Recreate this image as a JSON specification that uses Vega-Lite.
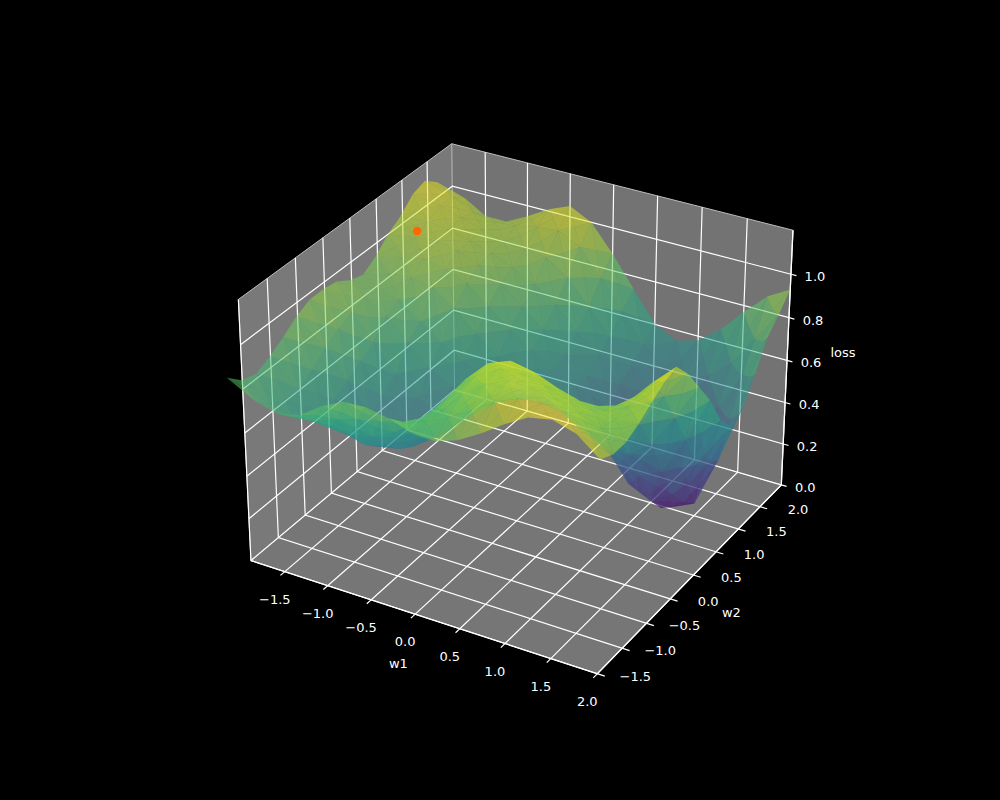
{"$schema":"https://vega.github.io/schema/vega-lite/v6.json","width":1000,"height":800,"padding":0,"autosize":{"type":"fit","contains":"padding"},"background":"black","view":{"stroke":null},
"config":{"text":{"font":"DejaVu Sans","fontSize":13,"color":"white"}},
"datasets":{"surface":[
{"w1":-2.08,"w2":2.5,"loss":1.0},{"w1":-1.75,"w2":2.5,"loss":0.96},{"w1":-1.5,"w2":2.5,"loss":0.9},{"w1":-1.25,"w2":2.5,"loss":0.9},{"w1":-1,"w2":2.5,"loss":0.95},{"w1":-0.75,"w2":2.5,"loss":1.01},{"w1":-0.5,"w2":2.5,"loss":1.05},{"w1":-0.25,"w2":2.5,"loss":1.0},{"w1":0,"w2":2.5,"loss":0.88},{"w1":0.25,"w2":2.5,"loss":0.74},{"w1":0.5,"w2":2.5,"loss":0.6},{"w1":0.75,"w2":2.5,"loss":0.55},{"w1":1,"w2":2.5,"loss":0.58},{"w1":1.25,"w2":2.5,"loss":0.66},{"w1":1.5,"w2":2.5,"loss":0.77},{"w1":1.75,"w2":2.5,"loss":0.87},{"w1":2,"w2":2.5,"loss":0.93},
{"w1":-2.08,"w2":2.25,"loss":1.05},{"w1":-1.75,"w2":2.25,"loss":1.01},{"w1":-1.5,"w2":2.25,"loss":0.96},{"w1":-1.25,"w2":2.25,"loss":0.94},{"w1":-1,"w2":2.25,"loss":0.95},{"w1":-0.75,"w2":2.25,"loss":0.97},{"w1":-0.5,"w2":2.25,"loss":0.98},{"w1":-0.25,"w2":2.25,"loss":0.93},{"w1":0,"w2":2.25,"loss":0.81},{"w1":0.25,"w2":2.25,"loss":0.68},{"w1":0.5,"w2":2.25,"loss":0.55},{"w1":0.75,"w2":2.25,"loss":0.47},{"w1":1,"w2":2.25,"loss":0.44},{"w1":1.25,"w2":2.25,"loss":0.49},{"w1":1.5,"w2":2.25,"loss":0.58},{"w1":1.75,"w2":2.25,"loss":0.72},{"w1":2,"w2":2.25,"loss":0.86},
{"w1":-2.08,"w2":2,"loss":1.03},{"w1":-1.75,"w2":2,"loss":1.01},{"w1":-1.5,"w2":2,"loss":0.98},{"w1":-1.25,"w2":2,"loss":0.95},{"w1":-1,"w2":2,"loss":0.92},{"w1":-0.75,"w2":2,"loss":0.91},{"w1":-0.5,"w2":2,"loss":0.9},{"w1":-0.25,"w2":2,"loss":0.83},{"w1":0,"w2":2,"loss":0.72},{"w1":0.25,"w2":2,"loss":0.61},{"w1":0.5,"w2":2,"loss":0.5},{"w1":0.75,"w2":2,"loss":0.41},{"w1":1,"w2":2,"loss":0.33},{"w1":1.25,"w2":2,"loss":0.33},{"w1":1.5,"w2":2,"loss":0.42},{"w1":1.75,"w2":2,"loss":0.6},{"w1":2,"w2":2,"loss":0.8},
{"w1":-2.08,"w2":1.75,"loss":0.97},{"w1":-1.75,"w2":1.75,"loss":0.98},{"w1":-1.5,"w2":1.75,"loss":0.97},{"w1":-1.25,"w2":1.75,"loss":0.94},{"w1":-1,"w2":1.75,"loss":0.91},{"w1":-0.75,"w2":1.75,"loss":0.87},{"w1":-0.5,"w2":1.75,"loss":0.82},{"w1":-0.25,"w2":1.75,"loss":0.75},{"w1":0,"w2":1.75,"loss":0.65},{"w1":0.25,"w2":1.75,"loss":0.57},{"w1":0.5,"w2":1.75,"loss":0.46},{"w1":0.75,"w2":1.75,"loss":0.31},{"w1":1,"w2":1.75,"loss":0.18},{"w1":1.25,"w2":1.75,"loss":0.14},{"w1":1.5,"w2":1.75,"loss":0.22},{"w1":1.75,"w2":1.75,"loss":0.44},{"w1":2,"w2":1.75,"loss":0.68},
{"w1":-2.08,"w2":1.5,"loss":0.93},{"w1":-1.75,"w2":1.5,"loss":0.95},{"w1":-1.5,"w2":1.5,"loss":0.96},{"w1":-1.25,"w2":1.5,"loss":0.94},{"w1":-1,"w2":1.5,"loss":0.9},{"w1":-0.75,"w2":1.5,"loss":0.84},{"w1":-0.5,"w2":1.5,"loss":0.76},{"w1":-0.25,"w2":1.5,"loss":0.68},{"w1":0,"w2":1.5,"loss":0.59},{"w1":0.25,"w2":1.5,"loss":0.52},{"w1":0.5,"w2":1.5,"loss":0.4},{"w1":0.75,"w2":1.5,"loss":0.21},{"w1":1,"w2":1.5,"loss":0.05},{"w1":1.25,"w2":1.5,"loss":0.01},{"w1":1.5,"w2":1.5,"loss":0.06},{"w1":1.75,"w2":1.5,"loss":0.3},{"w1":2,"w2":1.5,"loss":0.58},
{"w1":-2.08,"w2":1.25,"loss":0.87},{"w1":-1.75,"w2":1.25,"loss":0.9},{"w1":-1.5,"w2":1.25,"loss":0.92},{"w1":-1.25,"w2":1.25,"loss":0.9},{"w1":-1,"w2":1.25,"loss":0.86},{"w1":-0.75,"w2":1.25,"loss":0.78},{"w1":-0.5,"w2":1.25,"loss":0.7},{"w1":-0.25,"w2":1.25,"loss":0.63},{"w1":0,"w2":1.25,"loss":0.57},{"w1":0.25,"w2":1.25,"loss":0.52},{"w1":0.5,"w2":1.25,"loss":0.43},{"w1":0.75,"w2":1.25,"loss":0.27},{"w1":1,"w2":1.25,"loss":0.11},{"w1":1.25,"w2":1.25,"loss":0.06},{"w1":1.5,"w2":1.25,"loss":0.12},{"w1":1.75,"w2":1.25,"loss":0.33},{"w1":2,"w2":1.25,"loss":0.54},
{"w1":-2.08,"w2":1,"loss":0.83},{"w1":-1.75,"w2":1,"loss":0.87},{"w1":-1.5,"w2":1,"loss":0.88},{"w1":-1.25,"w2":1,"loss":0.86},{"w1":-1,"w2":1,"loss":0.79},{"w1":-0.75,"w2":1,"loss":0.7},{"w1":-0.5,"w2":1,"loss":0.62},{"w1":-0.25,"w2":1,"loss":0.58},{"w1":0,"w2":1,"loss":0.55},{"w1":0.25,"w2":1,"loss":0.53},{"w1":0.5,"w2":1,"loss":0.47},{"w1":0.75,"w2":1,"loss":0.35},{"w1":1,"w2":1,"loss":0.2},{"w1":1.25,"w2":1,"loss":0.15},{"w1":1.5,"w2":1,"loss":0.21},{"w1":1.75,"w2":1,"loss":0.38},{"w1":2,"w2":1,"loss":0.62},
{"w1":-2.08,"w2":0.75,"loss":0.85},{"w1":-1.75,"w2":0.75,"loss":0.84},{"w1":-1.5,"w2":0.75,"loss":0.82},{"w1":-1.25,"w2":0.75,"loss":0.75},{"w1":-1,"w2":0.75,"loss":0.68},{"w1":-0.75,"w2":0.75,"loss":0.62},{"w1":-0.5,"w2":0.75,"loss":0.57},{"w1":-0.25,"w2":0.75,"loss":0.55},{"w1":0,"w2":0.75,"loss":0.56},{"w1":0.25,"w2":0.75,"loss":0.56},{"w1":0.5,"w2":0.75,"loss":0.52},{"w1":0.75,"w2":0.75,"loss":0.45},{"w1":1,"w2":0.75,"loss":0.35},{"w1":1.25,"w2":0.75,"loss":0.32},{"w1":1.5,"w2":0.75,"loss":0.37},{"w1":1.75,"w2":0.75,"loss":0.55},{"w1":2,"w2":0.75,"loss":0.76},
{"w1":-2.08,"w2":0.5,"loss":0.89},{"w1":-1.75,"w2":0.5,"loss":0.85},{"w1":-1.5,"w2":0.5,"loss":0.79},{"w1":-1.25,"w2":0.5,"loss":0.7},{"w1":-1,"w2":0.5,"loss":0.61},{"w1":-0.75,"w2":0.5,"loss":0.55},{"w1":-0.5,"w2":0.5,"loss":0.52},{"w1":-0.25,"w2":0.5,"loss":0.54},{"w1":0,"w2":0.5,"loss":0.58},{"w1":0.25,"w2":0.5,"loss":0.6},{"w1":0.5,"w2":0.5,"loss":0.58},{"w1":0.75,"w2":0.5,"loss":0.52},{"w1":1,"w2":0.5,"loss":0.47},{"w1":1.25,"w2":0.5,"loss":0.47},{"w1":1.5,"w2":0.5,"loss":0.55},{"w1":1.75,"w2":0.5,"loss":0.7},{"w1":2,"w2":0.5,"loss":0.87},
{"w1":-2.08,"w2":0.25,"loss":0.9},{"w1":-1.75,"w2":0.25,"loss":0.83},{"w1":-1.5,"w2":0.25,"loss":0.72},{"w1":-1.25,"w2":0.25,"loss":0.6},{"w1":-1,"w2":0.25,"loss":0.52},{"w1":-0.75,"w2":0.25,"loss":0.48},{"w1":-0.5,"w2":0.25,"loss":0.48},{"w1":-0.25,"w2":0.25,"loss":0.55},{"w1":0,"w2":0.25,"loss":0.64},{"w1":0.25,"w2":0.25,"loss":0.68},{"w1":0.5,"w2":0.25,"loss":0.68},{"w1":0.75,"w2":0.25,"loss":0.63},{"w1":1,"w2":0.25,"loss":0.59},{"w1":1.25,"w2":0.25,"loss":0.61},{"w1":1.5,"w2":0.25,"loss":0.69},{"w1":1.75,"w2":0.25,"loss":0.85},{"w1":2,"w2":0.25,"loss":0.98},
{"w1":-2.08,"w2":0,"loss":0.9},{"w1":-1.75,"w2":0,"loss":0.8},{"w1":-1.5,"w2":0,"loss":0.68},{"w1":-1.25,"w2":0,"loss":0.55},{"w1":-1,"w2":0,"loss":0.46},{"w1":-0.75,"w2":0,"loss":0.43},{"w1":-0.5,"w2":0,"loss":0.47},{"w1":-0.25,"w2":0,"loss":0.58},{"w1":0,"w2":0,"loss":0.7},{"w1":0.25,"w2":0,"loss":0.76},{"w1":0.5,"w2":0,"loss":0.78},{"w1":0.75,"w2":0,"loss":0.73},{"w1":1,"w2":0,"loss":0.7},{"w1":1.25,"w2":0,"loss":0.73},{"w1":1.5,"w2":0,"loss":0.83},{"w1":1.75,"w2":0,"loss":0.96},{"w1":2,"w2":0,"loss":1.06},
{"w1":-2.08,"w2":-0.25,"loss":0.87},{"w1":-1.75,"w2":-0.25,"loss":0.76},{"w1":-1.5,"w2":-0.25,"loss":0.64},{"w1":-1.25,"w2":-0.25,"loss":0.51},{"w1":-1,"w2":-0.25,"loss":0.43},{"w1":-0.75,"w2":-0.25,"loss":0.42},{"w1":-0.5,"w2":-0.25,"loss":0.49},{"w1":-0.25,"w2":-0.25,"loss":0.64},{"w1":0,"w2":-0.25,"loss":0.8},{"w1":0.25,"w2":-0.25,"loss":0.9},{"w1":0.5,"w2":-0.25,"loss":0.93},{"w1":0.75,"w2":-0.25,"loss":0.88},{"w1":1,"w2":-0.25,"loss":0.84},{"w1":1.25,"w2":-0.25,"loss":0.84},{"w1":1.5,"w2":-0.25,"loss":0.88},{"w1":1.75,"w2":-0.25,"loss":0.96},{"w1":2,"w2":-0.25,"loss":1.04},
{"w1":-2.08,"w2":-0.5,"loss":0.82},{"w1":-1.75,"w2":-0.5,"loss":0.71},{"w1":-1.5,"w2":-0.5,"loss":0.6},{"w1":-1.25,"w2":-0.5,"loss":0.49},{"w1":-1,"w2":-0.5,"loss":0.44},{"w1":-0.75,"w2":-0.5,"loss":0.46},{"w1":-0.5,"w2":-0.5,"loss":0.54},{"w1":-0.25,"w2":-0.5,"loss":0.71},{"w1":0,"w2":-0.5,"loss":0.87},{"w1":0.25,"w2":-0.5,"loss":0.97},{"w1":0.5,"w2":-0.5,"loss":1.01},{"w1":0.75,"w2":-0.5,"loss":0.99},{"w1":1,"w2":-0.5,"loss":0.95},{"w1":1.25,"w2":-0.5,"loss":0.92},{"w1":1.5,"w2":-0.5,"loss":0.91},{"w1":1.75,"w2":-0.5,"loss":0.95},{"w1":2,"w2":-0.5,"loss":1},
{"w1":-2.08,"w2":-0.75,"loss":0.78},{"w1":-1.75,"w2":-0.75,"loss":0.67},{"w1":-1.5,"w2":-0.75,"loss":0.6},{"w1":-1.25,"w2":-0.75,"loss":0.53},{"w1":-1,"w2":-0.75,"loss":0.5},{"w1":-0.75,"w2":-0.75,"loss":0.53},{"w1":-0.5,"w2":-0.75,"loss":0.61},{"w1":-0.25,"w2":-0.75,"loss":0.74},{"w1":0,"w2":-0.75,"loss":0.86},{"w1":0.25,"w2":-0.75,"loss":0.96},{"w1":0.5,"w2":-0.75,"loss":1.02},{"w1":0.75,"w2":-0.75,"loss":1.03},{"w1":1,"w2":-0.75,"loss":1.01},{"w1":1.25,"w2":-0.75,"loss":0.98},{"w1":1.5,"w2":-0.75,"loss":0.96},{"w1":1.75,"w2":-0.75,"loss":0.95},{"w1":2,"w2":-0.75,"loss":0.96},
{"w1":-2.08,"w2":-1,"loss":0.75},{"w1":-1.75,"w2":-1,"loss":0.67},{"w1":-1.5,"w2":-1,"loss":0.62},{"w1":-1.25,"w2":-1,"loss":0.6},{"w1":-1,"w2":-1,"loss":0.6},{"w1":-0.75,"w2":-1,"loss":0.62},{"w1":-0.5,"w2":-1,"loss":0.67},{"w1":-0.25,"w2":-1,"loss":0.75},{"w1":0,"w2":-1,"loss":0.84},{"w1":0.25,"w2":-1,"loss":0.93},{"w1":0.5,"w2":-1,"loss":1},{"w1":0.75,"w2":-1,"loss":1.05},{"w1":1,"w2":-1,"loss":1.05},{"w1":1.25,"w2":-1,"loss":1.03},{"w1":1.5,"w2":-1,"loss":1},{"w1":1.75,"w2":-1,"loss":0.96},{"w1":2,"w2":-1,"loss":0.93},
{"w1":-2.08,"w2":-1.25,"loss":0.77},{"w1":-1.75,"w2":-1.25,"loss":0.7},{"w1":-1.5,"w2":-1.25,"loss":0.67},{"w1":-1.25,"w2":-1.25,"loss":0.68},{"w1":-1,"w2":-1.25,"loss":0.72},{"w1":-0.75,"w2":-1.25,"loss":0.75},{"w1":-0.5,"w2":-1.25,"loss":0.77},{"w1":-0.25,"w2":-1.25,"loss":0.8},{"w1":0,"w2":-1.25,"loss":0.83},{"w1":0.25,"w2":-1.25,"loss":0.88},{"w1":0.5,"w2":-1.25,"loss":0.94},{"w1":0.75,"w2":-1.25,"loss":1.01},{"w1":1,"w2":-1.25,"loss":1.05},{"w1":1.25,"w2":-1.25,"loss":1.06},{"w1":1.5,"w2":-1.25,"loss":1.05},{"w1":1.75,"w2":-1.25,"loss":1},{"w1":2,"w2":-1.25,"loss":0.93},
{"w1":-2.08,"w2":-1.5,"loss":0.83},{"w1":-1.75,"w2":-1.5,"loss":0.76},{"w1":-1.5,"w2":-1.5,"loss":0.735},{"w1":-1.25,"w2":-1.5,"loss":0.76},{"w1":-1,"w2":-1.5,"loss":0.83},{"w1":-0.75,"w2":-1.5,"loss":0.88},{"w1":-0.5,"w2":-1.5,"loss":0.885},{"w1":-0.25,"w2":-1.5,"loss":0.865},{"w1":0,"w2":-1.5,"loss":0.83},{"w1":0.25,"w2":-1.5,"loss":0.825},{"w1":0.5,"w2":-1.5,"loss":0.86},{"w1":0.75,"w2":-1.5,"loss":0.92},{"w1":1,"w2":-1.5,"loss":0.99},{"w1":1.25,"w2":-1.5,"loss":1.05},{"w1":1.5,"w2":-1.5,"loss":1.07},{"w1":1.75,"w2":-1.5,"loss":1.04},{"w1":2,"w2":-1.5,"loss":0.96}
],
"scene":[
{"kind":"pane","id":"x","i":0,"w1":-1.9,"w2":-1.5,"z":0},{"kind":"pane","id":"x","i":1,"w1":-1.9,"w2":2.5,"z":0},{"kind":"pane","id":"x","i":2,"w1":-1.9,"w2":2.5,"z":1.2},{"kind":"pane","id":"x","i":3,"w1":-1.9,"w2":-1.5,"z":1.2},
{"kind":"pane","id":"y","i":0,"w1":-1.9,"w2":2.5,"z":0},{"kind":"pane","id":"y","i":1,"w1":2,"w2":2.5,"z":0},{"kind":"pane","id":"y","i":2,"w1":2,"w2":2.5,"z":1.2},{"kind":"pane","id":"y","i":3,"w1":-1.9,"w2":2.5,"z":1.2},
{"kind":"pane","id":"z","i":0,"w1":-1.9,"w2":-1.5,"z":0},{"kind":"pane","id":"z","i":1,"w1":2,"w2":-1.5,"z":0},{"kind":"pane","id":"z","i":2,"w1":2,"w2":2.5,"z":0},{"kind":"pane","id":"z","i":3,"w1":-1.9,"w2":2.5,"z":0},
{"kind":"edge","id":"e1","i":0,"w1":-1.9,"w2":-1.5,"z":0},{"kind":"edge","id":"e1","i":1,"w1":-1.9,"w2":-1.5,"z":1.2},{"kind":"edge","id":"e1","i":2,"w1":-1.9,"w2":2.5,"z":1.2},{"kind":"edge","id":"e1","i":3,"w1":2,"w2":2.5,"z":1.2},{"kind":"edge","id":"e2","i":0,"w1":-1.9,"w2":2.5,"z":0},{"kind":"edge","id":"e2","i":1,"w1":-1.9,"w2":2.5,"z":1.2},{"kind":"edge","id":"e3","i":0,"w1":-1.9,"w2":2.5,"z":0},{"kind":"edge","id":"e3","i":1,"w1":-1.9,"w2":-1.5,"z":0},{"kind":"edge","id":"e4","i":0,"w1":-1.9,"w2":2.5,"z":0},{"kind":"edge","id":"e4","i":1,"w1":2,"w2":2.5,"z":0},
{"kind":"axis","id":"a1","i":0,"w1":-1.9,"w2":-1.5,"z":0},{"kind":"axis","id":"a1","i":1,"w1":2,"w2":-1.5,"z":0},{"kind":"axis","id":"a1","i":2,"w1":2,"w2":2.5,"z":0},{"kind":"axis","id":"a1","i":3,"w1":2,"w2":2.5,"z":1.2},
{"kind":"grid","id":"x1","i":0,"w1":-1.5,"w2":-1.58,"z":0},{"kind":"grid","id":"x1","i":1,"w1":-1.5,"w2":2.5,"z":0},{"kind":"grid","id":"x1","i":2,"w1":-1.5,"w2":2.5,"z":1.2},
{"kind":"grid","id":"x2","i":0,"w1":-1,"w2":-1.58,"z":0},{"kind":"grid","id":"x2","i":1,"w1":-1,"w2":2.5,"z":0},{"kind":"grid","id":"x2","i":2,"w1":-1,"w2":2.5,"z":1.2},
{"kind":"grid","id":"x3","i":0,"w1":-0.5,"w2":-1.58,"z":0},{"kind":"grid","id":"x3","i":1,"w1":-0.5,"w2":2.5,"z":0},{"kind":"grid","id":"x3","i":2,"w1":-0.5,"w2":2.5,"z":1.2},
{"kind":"grid","id":"x4","i":0,"w1":0,"w2":-1.58,"z":0},{"kind":"grid","id":"x4","i":1,"w1":0,"w2":2.5,"z":0},{"kind":"grid","id":"x4","i":2,"w1":0,"w2":2.5,"z":1.2},
{"kind":"grid","id":"x5","i":0,"w1":0.5,"w2":-1.58,"z":0},{"kind":"grid","id":"x5","i":1,"w1":0.5,"w2":2.5,"z":0},{"kind":"grid","id":"x5","i":2,"w1":0.5,"w2":2.5,"z":1.2},
{"kind":"grid","id":"x6","i":0,"w1":1,"w2":-1.58,"z":0},{"kind":"grid","id":"x6","i":1,"w1":1,"w2":2.5,"z":0},{"kind":"grid","id":"x6","i":2,"w1":1,"w2":2.5,"z":1.2},
{"kind":"grid","id":"x7","i":0,"w1":1.5,"w2":-1.58,"z":0},{"kind":"grid","id":"x7","i":1,"w1":1.5,"w2":2.5,"z":0},{"kind":"grid","id":"x7","i":2,"w1":1.5,"w2":2.5,"z":1.2},
{"kind":"grid","id":"x8","i":0,"w1":2,"w2":-1.58,"z":0},{"kind":"grid","id":"x8","i":1,"w1":2,"w2":2.5,"z":0},{"kind":"grid","id":"x8","i":2,"w1":2,"w2":2.5,"z":1.2},
{"kind":"grid","id":"y1","i":0,"w1":2.08,"w2":-1.5,"z":0},{"kind":"grid","id":"y1","i":1,"w1":-1.9,"w2":-1.5,"z":0},{"kind":"grid","id":"y1","i":2,"w1":-1.9,"w2":-1.5,"z":1.2},
{"kind":"grid","id":"y2","i":0,"w1":2.08,"w2":-1,"z":0},{"kind":"grid","id":"y2","i":1,"w1":-1.9,"w2":-1,"z":0},{"kind":"grid","id":"y2","i":2,"w1":-1.9,"w2":-1,"z":1.2},
{"kind":"grid","id":"y3","i":0,"w1":2.08,"w2":-0.5,"z":0},{"kind":"grid","id":"y3","i":1,"w1":-1.9,"w2":-0.5,"z":0},{"kind":"grid","id":"y3","i":2,"w1":-1.9,"w2":-0.5,"z":1.2},
{"kind":"grid","id":"y4","i":0,"w1":2.08,"w2":0,"z":0},{"kind":"grid","id":"y4","i":1,"w1":-1.9,"w2":0,"z":0},{"kind":"grid","id":"y4","i":2,"w1":-1.9,"w2":0,"z":1.2},
{"kind":"grid","id":"y5","i":0,"w1":2.08,"w2":0.5,"z":0},{"kind":"grid","id":"y5","i":1,"w1":-1.9,"w2":0.5,"z":0},{"kind":"grid","id":"y5","i":2,"w1":-1.9,"w2":0.5,"z":1.2},
{"kind":"grid","id":"y6","i":0,"w1":2.08,"w2":1,"z":0},{"kind":"grid","id":"y6","i":1,"w1":-1.9,"w2":1,"z":0},{"kind":"grid","id":"y6","i":2,"w1":-1.9,"w2":1,"z":1.2},
{"kind":"grid","id":"y7","i":0,"w1":2.08,"w2":1.5,"z":0},{"kind":"grid","id":"y7","i":1,"w1":-1.9,"w2":1.5,"z":0},{"kind":"grid","id":"y7","i":2,"w1":-1.9,"w2":1.5,"z":1.2},
{"kind":"grid","id":"y8","i":0,"w1":2.08,"w2":2,"z":0},{"kind":"grid","id":"y8","i":1,"w1":-1.9,"w2":2,"z":0},{"kind":"grid","id":"y8","i":2,"w1":-1.9,"w2":2,"z":1.2},
{"kind":"grid","id":"z0","i":0,"w1":-1.9,"w2":-1.5,"z":0},{"kind":"grid","id":"z0","i":1,"w1":-1.9,"w2":2.5,"z":0},{"kind":"grid","id":"z0","i":2,"w1":2,"w2":2.5,"z":0},{"kind":"grid","id":"z0","i":3,"w1":2.06,"w2":2.5,"z":0},
{"kind":"grid","id":"z1","i":0,"w1":-1.9,"w2":-1.5,"z":0.2},{"kind":"grid","id":"z1","i":1,"w1":-1.9,"w2":2.5,"z":0.2},{"kind":"grid","id":"z1","i":2,"w1":2,"w2":2.5,"z":0.2},{"kind":"grid","id":"z1","i":3,"w1":2.06,"w2":2.5,"z":0.2},
{"kind":"grid","id":"z2","i":0,"w1":-1.9,"w2":-1.5,"z":0.4},{"kind":"grid","id":"z2","i":1,"w1":-1.9,"w2":2.5,"z":0.4},{"kind":"grid","id":"z2","i":2,"w1":2,"w2":2.5,"z":0.4},{"kind":"grid","id":"z2","i":3,"w1":2.06,"w2":2.5,"z":0.4},
{"kind":"grid","id":"z3","i":0,"w1":-1.9,"w2":-1.5,"z":0.6},{"kind":"grid","id":"z3","i":1,"w1":-1.9,"w2":2.5,"z":0.6},{"kind":"grid","id":"z3","i":2,"w1":2,"w2":2.5,"z":0.6},{"kind":"grid","id":"z3","i":3,"w1":2.06,"w2":2.5,"z":0.6},
{"kind":"grid","id":"z4","i":0,"w1":-1.9,"w2":-1.5,"z":0.8},{"kind":"grid","id":"z4","i":1,"w1":-1.9,"w2":2.5,"z":0.8},{"kind":"grid","id":"z4","i":2,"w1":2,"w2":2.5,"z":0.8},{"kind":"grid","id":"z4","i":3,"w1":2.06,"w2":2.5,"z":0.8},
{"kind":"grid","id":"z5","i":0,"w1":-1.9,"w2":-1.5,"z":1},{"kind":"grid","id":"z5","i":1,"w1":-1.9,"w2":2.5,"z":1},{"kind":"grid","id":"z5","i":2,"w1":2,"w2":2.5,"z":1},{"kind":"grid","id":"z5","i":3,"w1":2.06,"w2":2.5,"z":1},
{"kind":"start","w1":-1.76,"w2":1.55,"z":0.97},
{"kind":"w1tick","label":"−1.5","w1":-1.5,"w2":-1.5,"z":0},{"kind":"w1tick","label":"−1.0","w1":-1,"w2":-1.5,"z":0},{"kind":"w1tick","label":"−0.5","w1":-0.5,"w2":-1.5,"z":0},{"kind":"w1tick","label":"0.0","w1":0,"w2":-1.5,"z":0},{"kind":"w1tick","label":"0.5","w1":0.5,"w2":-1.5,"z":0},{"kind":"w1tick","label":"1.0","w1":1,"w2":-1.5,"z":0},{"kind":"w1tick","label":"1.5","w1":1.5,"w2":-1.5,"z":0},{"kind":"w1tick","label":"2.0","w1":2,"w2":-1.5,"z":0},
{"kind":"w2tick","label":"−1.5","w1":2,"w2":-1.5,"z":0},{"kind":"w2tick","label":"−1.0","w1":2,"w2":-1,"z":0},{"kind":"w2tick","label":"−0.5","w1":2,"w2":-0.5,"z":0},{"kind":"w2tick","label":"0.0","w1":2,"w2":0,"z":0},{"kind":"w2tick","label":"0.5","w1":2,"w2":0.5,"z":0},{"kind":"w2tick","label":"1.0","w1":2,"w2":1,"z":0},{"kind":"w2tick","label":"1.5","w1":2,"w2":1.5,"z":0},{"kind":"w2tick","label":"2.0","w1":2,"w2":2,"z":0},
{"kind":"ztick","label":"0.0","w1":2,"w2":2.5,"z":0},{"kind":"ztick","label":"0.2","w1":2,"w2":2.5,"z":0.2},{"kind":"ztick","label":"0.4","w1":2,"w2":2.5,"z":0.4},{"kind":"ztick","label":"0.6","w1":2,"w2":2.5,"z":0.6},{"kind":"ztick","label":"0.8","w1":2,"w2":2.5,"z":0.8},{"kind":"ztick","label":"1.0","w1":2,"w2":2.5,"z":1},
{"kind":"t1","label":"w1","w1":0.07,"w2":-1.5,"z":0},{"kind":"t2","label":"w2","w1":2,"w2":0.5,"z":0},{"kind":"t3","label":"loss","w1":2,"w2":2.5,"z":0.6}
]},
"data":{"name":"scene"},
"transform":[
{"calculate":"(datum.w1+1.9)/3.9*1.1905-0.5952","as":"a"},{"calculate":"(datum.w2+1.5)/4*1.1905-0.5952","as":"b"},{"calculate":"datum.z/1.2*0.8929-0.4464","as":"c"},
{"calculate":"10-(0.433*datum.a-0.75*datum.b+0.5*datum.c)","as":"den"},
{"calculate":"521+3333*(0.866*datum.a+0.5*datum.b)/datum.den","as":"px"},
{"calculate":"396-3333*(-0.25*datum.a+0.433*datum.b+0.866*datum.c)/datum.den","as":"py"}],
"encoding":{"x":{"field":"px","type":"quantitative","scale":{"domain":[0,1000],"nice":false,"zero":false},"axis":null},"y":{"field":"py","type":"quantitative","scale":{"domain":[800,0],"nice":false,"zero":false},"axis":null}},
"resolve":{"scale":{"fill":"independent"}},
"layer":[
{"transform":[{"filter":"datum.kind=='pane'"}],"mark":{"type":"line","filled":true,"strokeWidth":0},"encoding":{"order":{"field":"i","type":"ordinal"},"detail":{"field":"id"},"fill":{"field":"id","type":"nominal","legend":null,"scale":{"domain":["x","y","z"],"range":["#797979","#737373","#767676"]}}}},
{"transform":[{"filter":"datum.kind=='edge'"}],"mark":{"type":"line","stroke":"#bdbdbd","strokeWidth":1},"encoding":{"order":{"field":"i","type":"ordinal"},"detail":{"field":"id"}}},
{"transform":[{"filter":"datum.kind=='grid'"}],"mark":{"type":"line","stroke":"white","strokeWidth":1.2},"encoding":{"order":{"field":"i","type":"ordinal"},"detail":{"field":"id"}}},
{"transform":[{"filter":"datum.kind=='axis'"}],"mark":{"type":"line","stroke":"white","strokeWidth":1.2},"encoding":{"order":{"field":"i","type":"ordinal"},"detail":{"field":"id"}}},
{"data":{"name":"surface"},"transform":[
{"window":[{"op":"lead","field":"loss","as":"z10"},{"op":"lead","field":"w1","as":"w1n"}],"groupby":["w2"],"sort":[{"field":"w1","order":"ascending"}]},
{"window":[{"op":"lead","field":"loss","as":"z01"},{"op":"lead","field":"z10","as":"z11"},{"op":"lead","field":"w2","as":"w2n"}],"groupby":["w1"],"sort":[{"field":"w2","order":"ascending"}]},
{"filter":"isValid(datum.z11)"},
{"calculate":"(datum.loss+datum.z10+datum.z01+datum.z11)/4","as":"mid"},
{"calculate":"[datum.loss,datum.z10,datum.z11,datum.z01]","as":"hs"},
{"calculate":"[datum.w1,datum.w1n,datum.w1n,datum.w1]","as":"us"},
{"calculate":"[datum.w2,datum.w2,datum.w2n,datum.w2n]","as":"vs"},
{"calculate":"[0,1,2,3]","as":"tris"},
{"flatten":["tris"],"as":["t"]},
{"calculate":"[0,1,2]","as":"verts"},
{"flatten":["verts"],"as":["i"]},
{"calculate":"(datum.hs[datum.t]+datum.hs[(datum.t+1)%4]+datum.mid)/3","as":"level"},
{"calculate":"datum.w1+'_'+datum.w2+'_'+datum.t","as":"tri"},
{"calculate":"datum.i==2?(datum.w1+datum.w1n)/2:datum.us[(datum.t+datum.i)%4]","as":"u"},
{"calculate":"datum.i==2?(datum.w2+datum.w2n)/2:datum.vs[(datum.t+datum.i)%4]","as":"v"},
{"calculate":"datum.i==2?datum.mid:datum.hs[(datum.t+datum.i)%4]","as":"height"},
{"calculate":"(datum.u+1.9)/3.9*1.1905-0.5952","as":"a"},{"calculate":"(datum.v+1.5)/4*1.1905-0.5952","as":"b"},{"calculate":"datum.height/1.2*0.8929-0.4464","as":"c"},
{"calculate":"10-(0.433*datum.a-0.75*datum.b+0.5*datum.c)","as":"den"},
{"calculate":"521+3333*(0.866*datum.a+0.5*datum.b)/datum.den","as":"px"},
{"calculate":"396-3333*(-0.25*datum.a+0.433*datum.b+0.866*datum.c)/datum.den","as":"py"}],
"mark":{"type":"line","filled":true,"strokeWidth":0,"fillOpacity":0.55},"encoding":{"order":{"field":"i","type":"quantitative"},"detail":{"field":"tri"},"fill":{"field":"level","type":"quantitative","legend":null,"scale":{"scheme":"viridis","domain":[0,1.07]}}}},
{"transform":[{"filter":"datum.kind=='start'"}],"mark":{"type":"circle","size":70,"color":"#ff6600","opacity":1}},
{"transform":[{"filter":"datum.kind=='w1tick'"}],"mark":{"type":"text","dx":-10,"dy":28},"encoding":{"text":{"field":"label"}}},
{"transform":[{"filter":"datum.kind=='w2tick'"}],"mark":{"type":"text","dx":38,"dy":3},"encoding":{"text":{"field":"label"}}},
{"transform":[{"filter":"datum.kind=='ztick'"}],"mark":{"type":"text","dx":24,"dy":3},"encoding":{"text":{"field":"label"}}},
{"transform":[{"filter":"datum.kind=='t1'"}],"mark":{"type":"text","dx":-23,"dy":48},"encoding":{"text":{"field":"label"}}},
{"transform":[{"filter":"datum.kind=='t2'"}],"mark":{"type":"text","dx":38,"dy":38},"encoding":{"text":{"field":"label"}}},
{"transform":[{"filter":"datum.kind=='t3'"}],"mark":{"type":"text","dx":56,"dy":-7},"encoding":{"text":{"field":"label"}}}
]}
